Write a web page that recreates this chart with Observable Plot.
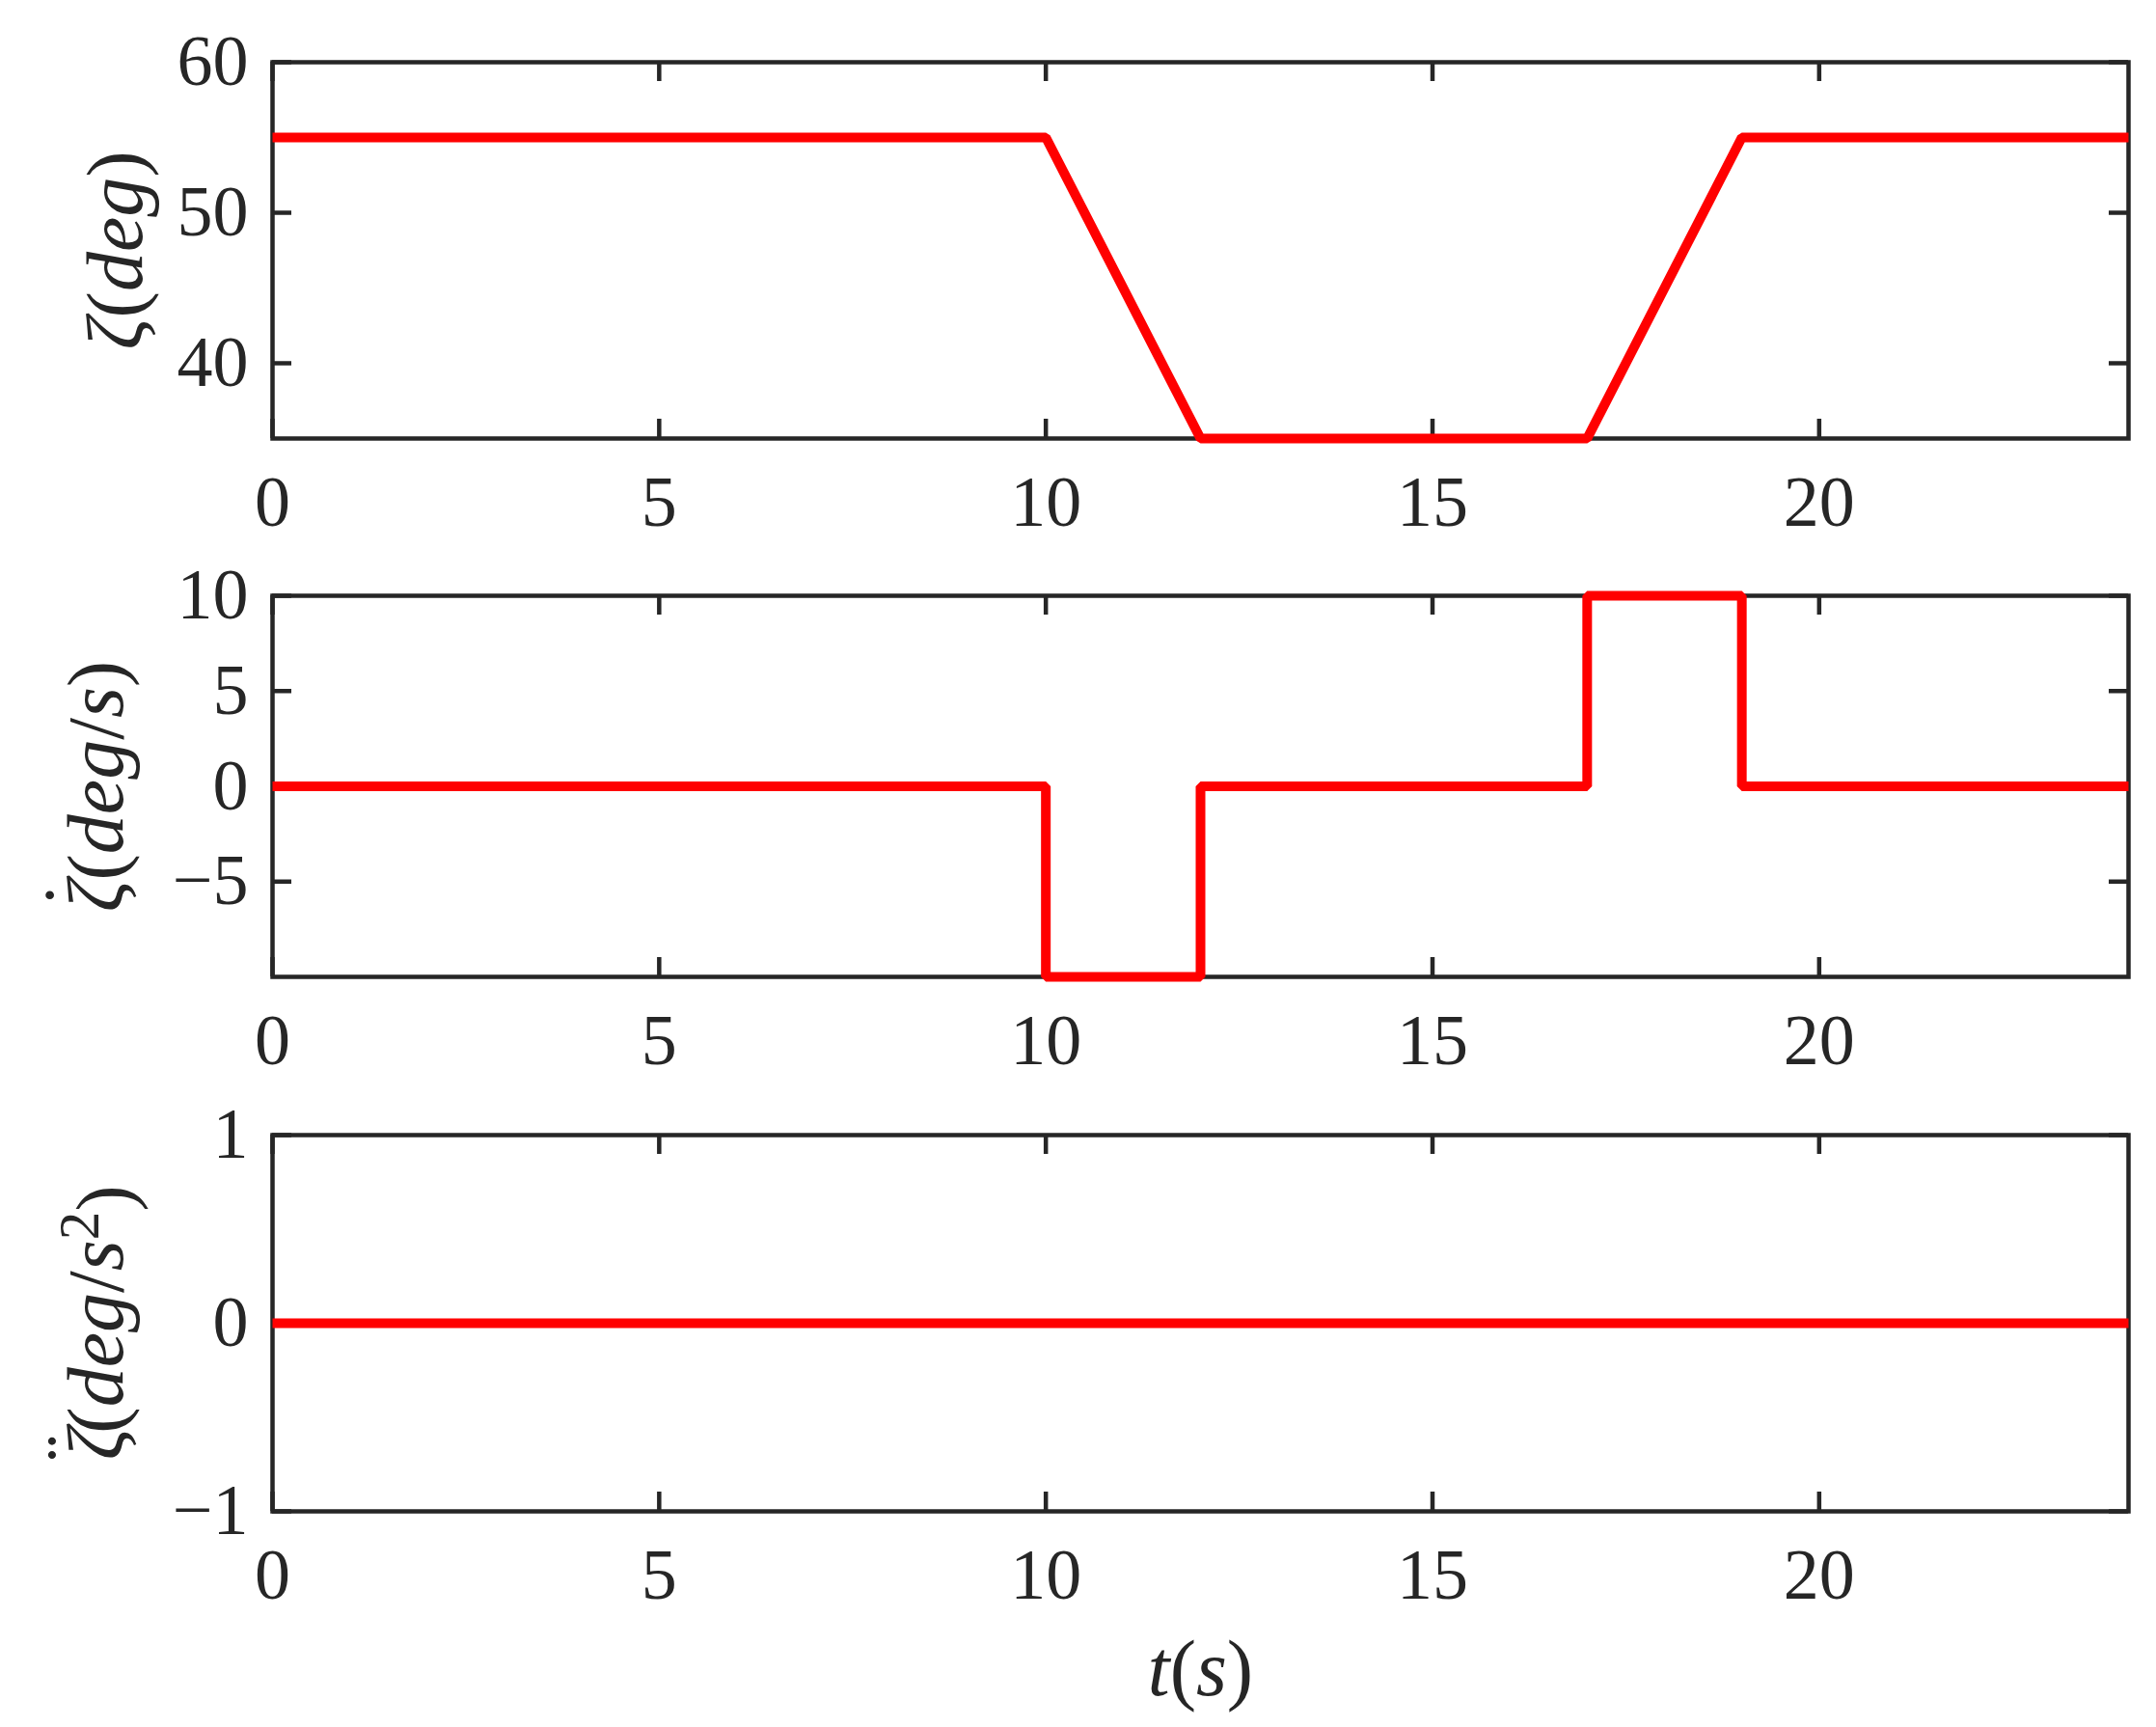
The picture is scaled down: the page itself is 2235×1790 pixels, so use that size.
<!DOCTYPE html>
<html>
<head>
<meta charset="utf-8">
<script src="https://cdn.jsdelivr.net/npm/d3@7"></script>
<script src="https://cdn.jsdelivr.net/npm/@observablehq/plot@0.6"></script>
<style>
  html, body { margin: 0; padding: 0; background: #fff; }
  #chart svg { display: block; }
</style>
</head>
<body>
<div id="chart"></div>
<script>
// ---- data ----
const timeAngle = [0, 10, 12, 17, 19, 24];
const zetaAngle = [55, 55, 35, 35, 55, 55];

const timeRate = [0, 10, 12, 17, 19, 24];
const zetaRate = [0, -10, 0, 10, 0, 0];

const timeAcc = [0, 24];
const zetaAcc = [0, 0];

const xTicks = [0, 5, 10, 15, 20];
const yTicksAngle = [40, 50, 60];
const yTicksRate = [-5, 0, 5, 10];
const yTicksAcc = [-1, 0, 1];

// ---- styling ----
const W = 2235, ML = 282, MR = 29;
const INK = "#262626";
const TICK = 20;
const SW = 4.5;
const FONT = "'Liberation Serif', 'DejaVu Serif', serif";
const fmt = d => d < 0 ? "\u2212" + Math.abs(d) : String(d);

function richText(svg, plain, parts) {
  for (const t of svg.querySelectorAll("text")) {
    if (t.textContent === plain && t.children.length === 0) {
      t.textContent = "";
      for (const p of parts) {
        const ts = document.createElementNS("http://www.w3.org/2000/svg", "tspan");
        ts.textContent = p.s;
        if (p.i) ts.setAttribute("font-style", "italic");
        if (p.dx) ts.setAttribute("dx", p.dx);
        if (p.dy) ts.setAttribute("dy", p.dy);
        if (p.fs) ts.setAttribute("font-size", p.fs);
        t.appendChild(ts);
      }
    }
  }
}

function panel({t, v, curve, yDomain, yTicks, label, parts, height, mt, mb, labelDx, xlabel}) {
  const frameH = height - mt - mb;
  const frameW = W - ML - MR;
  const data = t.map((d, i) => ({t: d, v: v[i]}));
  const marks = [
    Plot.frame({stroke: INK, strokeWidth: SW}),
    Plot.tickX(xTicks, {x: d => d, insetTop: frameH - TICK, stroke: INK, strokeWidth: SW}),
    Plot.tickX(xTicks, {x: d => d, insetBottom: frameH - TICK, stroke: INK, strokeWidth: SW}),
    Plot.tickY(yTicks, {y: d => d, insetRight: frameW - TICK, stroke: INK, strokeWidth: SW}),
    Plot.tickY(yTicks, {y: d => d, insetLeft: frameW - TICK, stroke: INK, strokeWidth: SW}),
    Plot.axisX({ticks: xTicks, tickSize: 0, tickPadding: 38, tickFormat: fmt, label: null, fill: INK}),
    Plot.axisY({ticks: yTicks, tickSize: 0, tickPadding: 25, tickFormat: fmt, label: null, fill: INK}),
    Plot.line(data, {x: "t", y: "v", stroke: "#ff0000", strokeWidth: 10, curve,
      strokeLinecap: "butt", strokeLinejoin: "miter"}),
    Plot.text([label], {text: d => d, frameAnchor: "left", rotate: -90, dx: labelDx,
      fontSize: 82, textAnchor: "middle", lineAnchor: "middle", fill: INK})
  ];
  if (xlabel) {
    marks.push(Plot.text([xlabel.plain], {text: d => d, frameAnchor: "bottom", dy: xlabel.dy,
      fontSize: 82, textAnchor: "middle", lineAnchor: "middle", fill: INK}));
  }
  const svg = Plot.plot({
    width: W, height,
    marginLeft: ML, marginRight: MR, marginTop: mt, marginBottom: mb,
    style: {fontFamily: FONT, fontSize: "74px", color: INK, background: "#fff", overflow: "visible"},
    x: {domain: [0, 24], label: null},
    y: {domain: yDomain, label: null},
    marks
  });
  richText(svg, label, parts);
  if (xlabel) richText(svg, xlabel.plain, xlabel.parts);
  return svg;
}

const chart = document.getElementById("chart");

chart.appendChild(panel({
  t: timeAngle, v: zetaAngle, curve: "linear", yDomain: [35, 60], yTicks: yTicksAngle,
  label: "ζ(deg)",
  parts: [{s: "ζ", i: 1}, {s: "("}, {s: "deg", i: 1}, {s: ")"}],
  height: 590, mt: 64, mb: 136, labelDx: -162
}));

chart.appendChild(panel({
  t: timeRate, v: zetaRate, curve: "step-after", yDomain: [-10, 10], yTicks: yTicksRate,
  label: "ζ̇(deg/s)",
  parts: [{s: "ζ", i: 1}, {s: "\u02D9", dx: "-0.36em", dy: "-0.3em"}, {s: "(", dx: "0.02em", dy: "0.3em"},
          {s: "deg", i: 1}, {s: "/"}, {s: "s", i: 1}, {s: ")"}],
  height: 570, mt: 27, mb: 148, labelDx: -182
}));

chart.appendChild(panel({
  t: timeAcc, v: zetaAcc, curve: "linear", yDomain: [-1, 1], yTicks: yTicksAcc,
  label: "ζ̈(deg/s²)",
  parts: [{s: "ζ", i: 1}, {s: "\u00A8", dx: "-0.42em", dy: "-0.3em"}, {s: "(", dx: "0.02em", dy: "0.3em"},
          {s: "deg", i: 1}, {s: "/"}, {s: "s", i: 1},
          {s: "2", dy: "-0.42em", fs: "0.72em"}, {s: ")", dy: "0.42em"}],
  height: 630, mt: 16, mb: 224, labelDx: -182,
  xlabel: {plain: "t(s)", dy: 164, parts: [{s: "t", i: 1}, {s: "("}, {s: "s", i: 1}, {s: ")"}]}
}));
</script>
</body>
</html>
